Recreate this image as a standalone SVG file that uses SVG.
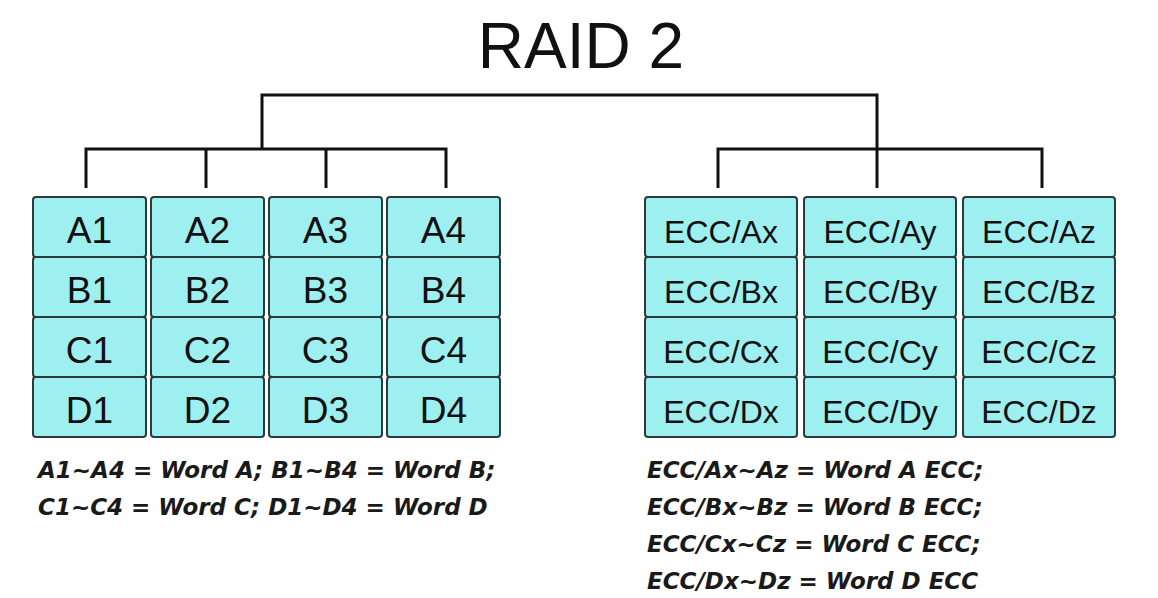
<svg xmlns="http://www.w3.org/2000/svg" width="1158" height="598" viewBox="0 0 1158 598">
<style>
.cell{fill:#9ef0f0;stroke:#2b3b3b;stroke-width:2}
.ct{font-family:"Liberation Sans",Arial,sans-serif;font-size:37px;fill:#111;text-anchor:middle}
.et{font-family:"Liberation Sans",Arial,sans-serif;font-size:32px;fill:#111;text-anchor:middle}
.note{font-family:"DejaVu Sans",Verdana,sans-serif;font-size:23px;font-weight:bold;font-style:italic;fill:#1a1a1a}
.title{font-family:"Liberation Sans",Arial,sans-serif;font-size:64px;fill:#111;text-anchor:middle}
.conn{fill:none;stroke:#111;stroke-width:3}
</style>
<rect width="1158" height="598" fill="#fff"/>
<text class="title" x="581" y="68">RAID 2</text>
<g id="connectors" class="conn">
<path d="M262,149 V95 H877 V188"/>
<path d="M86,188 V149 H446 V188"/>
<path d="M206,149 V188"/>
<path d="M326,149 V188"/>
<path d="M718,188 V149 H1042 V188"/>
</g>
<g id="disk1">
<rect class="cell" x="33" y="197" width="113" height="60" rx="3"/>
<rect class="cell" x="33" y="257" width="113" height="60" rx="3"/>
<rect class="cell" x="33" y="317" width="113" height="60" rx="3"/>
<rect class="cell" x="33" y="377" width="113" height="60" rx="3"/>
<text class="ct" x="89.5" y="243">A1</text>
<text class="ct" x="89.5" y="303">B1</text>
<text class="ct" x="89.5" y="363">C1</text>
<text class="ct" x="89.5" y="423">D1</text>
</g>
<g id="disk2">
<rect class="cell" x="151" y="197" width="113" height="60" rx="3"/>
<rect class="cell" x="151" y="257" width="113" height="60" rx="3"/>
<rect class="cell" x="151" y="317" width="113" height="60" rx="3"/>
<rect class="cell" x="151" y="377" width="113" height="60" rx="3"/>
<text class="ct" x="207.5" y="243">A2</text>
<text class="ct" x="207.5" y="303">B2</text>
<text class="ct" x="207.5" y="363">C2</text>
<text class="ct" x="207.5" y="423">D2</text>
</g>
<g id="disk3">
<rect class="cell" x="269" y="197" width="113" height="60" rx="3"/>
<rect class="cell" x="269" y="257" width="113" height="60" rx="3"/>
<rect class="cell" x="269" y="317" width="113" height="60" rx="3"/>
<rect class="cell" x="269" y="377" width="113" height="60" rx="3"/>
<text class="ct" x="325.5" y="243">A3</text>
<text class="ct" x="325.5" y="303">B3</text>
<text class="ct" x="325.5" y="363">C3</text>
<text class="ct" x="325.5" y="423">D3</text>
</g>
<g id="disk4">
<rect class="cell" x="387" y="197" width="113" height="60" rx="3"/>
<rect class="cell" x="387" y="257" width="113" height="60" rx="3"/>
<rect class="cell" x="387" y="317" width="113" height="60" rx="3"/>
<rect class="cell" x="387" y="377" width="113" height="60" rx="3"/>
<text class="ct" x="443.5" y="243">A4</text>
<text class="ct" x="443.5" y="303">B4</text>
<text class="ct" x="443.5" y="363">C4</text>
<text class="ct" x="443.5" y="423">D4</text>
</g>
<g id="eccx">
<rect class="cell" x="645" y="197" width="152" height="60" rx="3"/>
<rect class="cell" x="645" y="257" width="152" height="60" rx="3"/>
<rect class="cell" x="645" y="317" width="152" height="60" rx="3"/>
<rect class="cell" x="645" y="377" width="152" height="60" rx="3"/>
<text class="et" x="721" y="243">ECC/Ax</text>
<text class="et" x="721" y="303">ECC/Bx</text>
<text class="et" x="721" y="363">ECC/Cx</text>
<text class="et" x="721" y="423">ECC/Dx</text>
</g>
<g id="eccy">
<rect class="cell" x="804" y="197" width="152" height="60" rx="3"/>
<rect class="cell" x="804" y="257" width="152" height="60" rx="3"/>
<rect class="cell" x="804" y="317" width="152" height="60" rx="3"/>
<rect class="cell" x="804" y="377" width="152" height="60" rx="3"/>
<text class="et" x="880" y="243">ECC/Ay</text>
<text class="et" x="880" y="303">ECC/By</text>
<text class="et" x="880" y="363">ECC/Cy</text>
<text class="et" x="880" y="423">ECC/Dy</text>
</g>
<g id="eccz">
<rect class="cell" x="963" y="197" width="152" height="60" rx="3"/>
<rect class="cell" x="963" y="257" width="152" height="60" rx="3"/>
<rect class="cell" x="963" y="317" width="152" height="60" rx="3"/>
<rect class="cell" x="963" y="377" width="152" height="60" rx="3"/>
<text class="et" x="1039" y="243">ECC/Az</text>
<text class="et" x="1039" y="303">ECC/Bz</text>
<text class="et" x="1039" y="363">ECC/Cz</text>
<text class="et" x="1039" y="423">ECC/Dz</text>
</g>
<g id="notes-left">
<text class="note" x="38" y="478">A1~A4 = Word A; B1~B4 = Word B;</text>
<text class="note" x="38" y="515">C1~C4 = Word C; D1~D4 = Word D</text>
</g>
<g id="notes-right">
<text class="note" x="647" y="478">ECC/Ax~Az = Word A ECC;</text>
<text class="note" x="647" y="515">ECC/Bx~Bz = Word B ECC;</text>
<text class="note" x="647" y="552">ECC/Cx~Cz = Word C ECC;</text>
<text class="note" x="647" y="589">ECC/Dx~Dz = Word D ECC</text>
</g>
</svg>
